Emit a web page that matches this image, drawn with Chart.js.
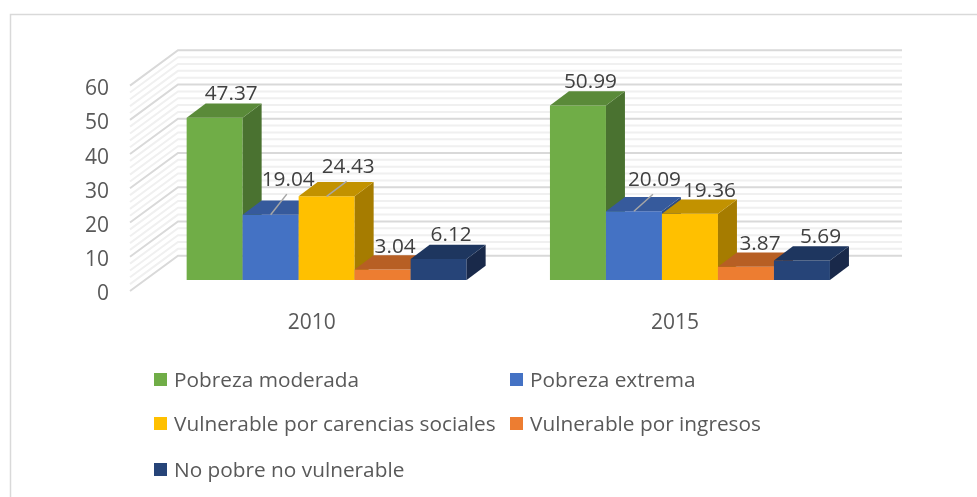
<!DOCTYPE html>
<html><head><meta charset="utf-8">
<style>html,body{margin:0;padding:0;background:#fff}canvas{display:block}</style>
<script src="https://cdn.jsdelivr.net/npm/chart.js@4"></script>
</head><body><canvas id="c" width="977" height="497"></canvas>
<script>
const categories = ["2010", "2015"];
const pobrezaModerada = [47.37, 50.99];
const pobrezaExtrema = [19.04, 20.09];
const vulnerableCarencias = [24.43, 19.36];
const vulnerableIngresos = [3.04, 3.87];
const noPobre = [6.12, 5.69];
const seriesNames = ["Pobreza moderada", "Pobreza extrema", "Vulnerable por carencias sociales", "Vulnerable por ingresos", "No pobre no vulnerable"];
const seriesValues = [pobrezaModerada, pobrezaExtrema, vulnerableCarencias, vulnerableIngresos, noPobre];
const yTicksMax = 60, yStep = 10, minorStep = 2;

const FONT = '"Open Sans", "Noto Sans", sans-serif';
const palette = [
  {front:"#70AD47", top:"#5A8A39", side:"#4A7230"},
  {front:"#4472C4", top:"#365A9C", side:"#2D4B82"},
  {front:"#FFC000", top:"#C29200", side:"#A67C00"},
  {front:"#ED7D31", top:"#B75F24", side:"#9C5120"},
  {front:"#264478", top:"#1E365F", side:"#19294A"}
];
const depthX = 19, depthY = 14.3;
// label offset from the front-top centre of each bar: [dx, dy, leader?]
const labelNudge = [
  [[16,-26],[12,-25]],
  [[17,-36.7,1],[20,-33,1]],
  [[21,-31,1],[19,-25]],
  [[12,-25],[13.5,-25]],
  [[12,-26],[18,-25]]
];
const legendCells = [[154,380],[510,380],[154,424],[510,424],[154,470]];

const wall3d = {
  id:"wall3d",
  beforeDraw(chart){
    const c = chart.ctx;
    c.save();
    c.strokeStyle = "#d9d9d9"; c.lineWidth = 1.5;
    c.beginPath(); c.moveTo(10.5,497); c.lineTo(10.5,14.5); c.lineTo(977,14.5); c.stroke();
    const y = chart.scales.y;
    const fx = 130, bx = 178, ex = 902, fd = 11, bd = -24.3;
    const draw = major => {
      c.strokeStyle = major ? "#d9d9d9" : "#f0f0f0";
      c.lineWidth = 2;
      for (let v = 0; v <= yTicksMax; v += minorStep) {
        if ((v % yStep === 0) !== major) continue;
        const p = y.getPixelForValue(v);
        c.beginPath(); c.moveTo(fx, p+fd); c.lineTo(bx, p+bd); c.lineTo(ex, p+bd); c.stroke();
      }
    };
    draw(false); draw(true);
    c.restore();
  },
  beforeDatasetDraw(){ return false; },
  afterDatasetsDraw(chart){
    const c = chart.ctx;
    chart.data.datasets.forEach((ds,i)=>{
      const meta = chart.getDatasetMeta(i), col = palette[i];
      meta.data.forEach(el=>{
        el.draw(c);
        const l = el.x-el.width/2, r = el.x+el.width/2, t = el.y, b = el.base;
        c.fillStyle = col.side;
        c.beginPath(); c.moveTo(r,t); c.lineTo(r+depthX,t-depthY); c.lineTo(r+depthX,b-depthY); c.lineTo(r,b); c.closePath(); c.fill();
        c.fillStyle = col.top;
        c.beginPath(); c.moveTo(l,t); c.lineTo(l+depthX,t-depthY); c.lineTo(r+depthX,t-depthY); c.lineTo(r,t); c.closePath(); c.fill();
      });
    });
    c.save();
    c.font = "20.8px "+FONT; c.textAlign = "center"; c.textBaseline = "middle";
    chart.data.datasets.forEach((ds,i)=>{
      chart.getDatasetMeta(i).data.forEach((el,j)=>{
        const n = labelNudge[i][j];
        if (n[2]) {
          c.strokeStyle = "#a6a6a6"; c.lineWidth = 1.5;
          c.beginPath(); c.moveTo(el.x, el.y); c.lineTo(el.x+n[0]*0.95, el.y+n[1]+16); c.stroke();
        }
        c.fillStyle = "#404040";
        c.fillText(ds.data[j].toFixed(2), el.x+n[0]+0.5, el.y+n[1]+2);
      });
    });
    c.restore();
    c.save();
    c.font = "20.8px "+FONT; c.textAlign = "left"; c.textBaseline = "middle";
    chart.data.datasets.forEach((ds,i)=>{
      const [x,y] = legendCells[i];
      c.fillStyle = palette[i].front; c.fillRect(x,y-7,13,13);
      c.fillStyle = "#595959"; c.fillText(ds.label, x+20, y+1);
    });
    c.restore();
  }
};

new Chart(document.getElementById("c"),{
  type:"bar",
  data:{
    labels:categories,
    datasets:seriesNames.map((n,i)=>({
      label:n, data:seriesValues[i],
      backgroundColor:palette[i].front,
      barPercentage:1, categoryPercentage:0.7707
    }))
  },
  plugins:[wall3d],
  options:{
    responsive:false, animation:false,
    layout:{padding:{left:0,top:74.6,right:105.4,bottom:0}},
    plugins:{legend:{display:false},title:{display:false},tooltip:{enabled:false}},
    scales:{
      x:{
        grid:{display:false,drawTicks:false}, border:{display:false},
        afterFit(s){s.height=217;},
        ticks:{padding:30,labelOffset:-15,maxRotation:0,color:"#595959",font:{family:FONT,size:21}}
      },
      y:{
        min:0,max:yTicksMax,
        grid:{display:false,drawTicks:false}, border:{display:false},
        afterFit(s){s.width=145;},
        ticks:{stepSize:yStep,padding:36,labelOffset:14.5,color:"#595959",font:{family:FONT,size:21}}
      }
    }
  }
});
</script></body></html>
